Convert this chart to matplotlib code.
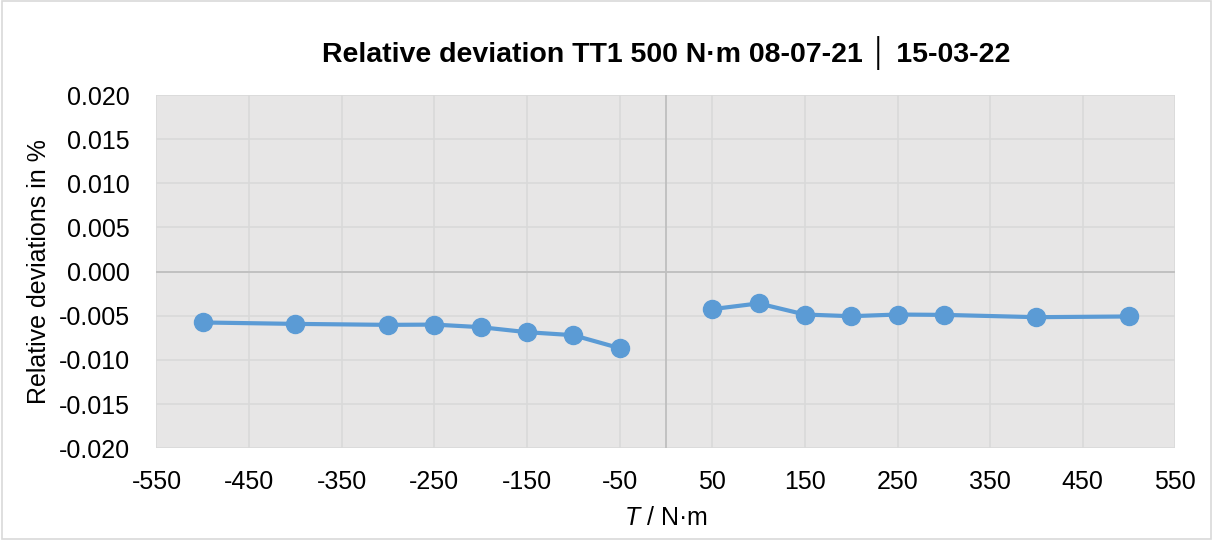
import matplotlib.pyplot as plt
from matplotlib.patches import Rectangle

plt.rcParams['font.family'] = ['Liberation Sans', 'DejaVu Sans']
plt.rcParams['mathtext.fontset'] = 'custom'
plt.rcParams['mathtext.it'] = 'Liberation Sans:italic'
plt.rcParams['mathtext.rm'] = 'Liberation Sans'
plt.rcParams['axes.unicode_minus'] = False

# negative torque steps
t_neg = [-500, -400, -300, -250, -200, -150, -100, -50]
dev_neg = [-0.00576, -0.00592, -0.00603, -0.00600, -0.00629, -0.00686, -0.00720, -0.00867]

# positive torque steps
t_pos = [50, 100, 150, 200, 250, 300, 400, 500]
dev_pos = [-0.00425, -0.00360, -0.00486, -0.00505, -0.00486, -0.00490, -0.00516, -0.00508]

xticks = list(range(-550, 551, 100))
yticks = [-0.020, -0.015, -0.010, -0.005, 0.0, 0.005, 0.010, 0.015, 0.020]

fig = plt.figure(figsize=(12.13, 5.40), dpi=100)
fig.patches.append(Rectangle((0.002, 0.002), 0.996, 0.996, transform=fig.transFigure,
                             fill=False, edgecolor='#D9D9D9', linewidth=1.2))
ax = fig.add_axes([0.129, 0.170, 0.840, 0.654])
ax.set_facecolor('#E7E6E6')

blue = '#5B9BD5'
ax.plot(t_neg, dev_neg, color=blue, lw=3, marker='o', ms=13, zorder=3)
ax.plot(t_pos, dev_pos, color=blue, lw=3, marker='o', ms=13, zorder=3)

ax.set_xlim(-550, 550)
ax.set_ylim(-0.020, 0.020)
ax.set_xticks(xticks)
ax.set_yticks(yticks)
ax.set_yticklabels([f'{v:.3f}' for v in yticks])
ax.grid(True, color='#D9D9D9', lw=1.2)
ax.set_axisbelow(True)
ax.axhline(0, color='#BFBFBF', lw=1.3, zorder=1)
ax.axvline(0, color='#BFBFBF', lw=1.3, zorder=1)
for s in ax.spines.values():
    s.set_visible(False)
ax.tick_params(length=0, labelsize=18)
ax.tick_params(axis='x', pad=16)
ax.tick_params(axis='y', pad=19)

ax.set_xlabel(r'$\it{T}$ / N·m', fontsize=18, labelpad=8)
ax.set_ylabel('Relative deviations in %', fontsize=18)
ax.yaxis.set_label_coords(-0.104, 0.5)
ax.set_title('Relative deviation TT1 500 N·m 08-07-21 │ 15-03-22',
             fontsize=20.5, fontweight='bold', pad=24)

fig.savefig('out.png', dpi=100)
